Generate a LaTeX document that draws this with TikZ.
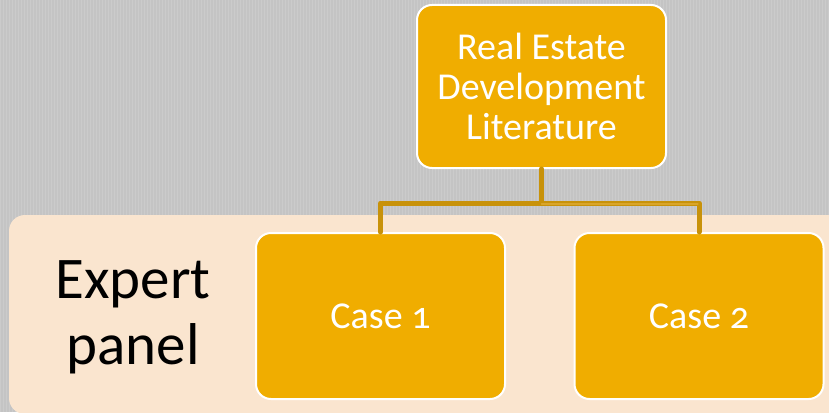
\documentclass[tikz,border=0pt]{standalone}
\usepackage{fontspec}
\setmainfont{Carlito}[Numbers=OldStyle]
\definecolor{bggray}{HTML}{C4C4C4}
\definecolor{stripe}{HTML}{CBCBCB}
\definecolor{bandpeach}{HTML}{FAE5CF}
\definecolor{boxgold}{HTML}{F0AD00}
\definecolor{linegold}{HTML}{C8920A}
\definecolor{linehi}{HTML}{D9A52A}
\tikzset{
  goldbox/.style={rectangle, rounded corners=15pt, fill=boxgold, draw=white,
    line width=2pt, text=white, align=center, font=\fontsize{38}{40}\selectfont,
    inner sep=0pt},
  conn/.style={linegold, line width=5pt, line cap=round, line join=round},
  connhi/.style={linehi, line width=1.2pt, line cap=round, line join=round}
}
\begin{document}
\begin{tikzpicture}[x=1pt,y=-1pt]
\useasboundingbox (0,0) rectangle (829,412);
\fill[bggray] (0,0) rectangle (829,412);
\foreach \i in {0,3,...,828} { \fill[stripe] (\i,0) rectangle (\i+1.2,412); }
\fill[bandpeach, rounded corners=16pt] (9,215) rectangle (860,414);
\node[goldbox, minimum width=249pt, minimum height=163pt] (lit) at (541.5,86.5)
  {Real Estate\\Development\\Literature};
\node[goldbox, minimum width=249pt, minimum height=166pt] (c1) at (380.5,316) {Case 1};
\node[goldbox, minimum width=249pt, minimum height=166pt] (c2) at (699,316) {Case 2};
\coordinate (mid) at (541.5,203);
\draw[conn] (lit.south) -- (mid) -| (c1.north);
\draw[conn] (mid) -| (c2.north);
\draw[connhi] ([yshift=-1pt]mid) -- ([xshift=-1pt,yshift=-1pt]mid -| c2.north);
\node[font=\fontsize{59}{66}\selectfont, align=center, text=black, inner sep=0pt]
  (ep) at (133,317) {Expert\\panel};
\end{tikzpicture}
\end{document}
